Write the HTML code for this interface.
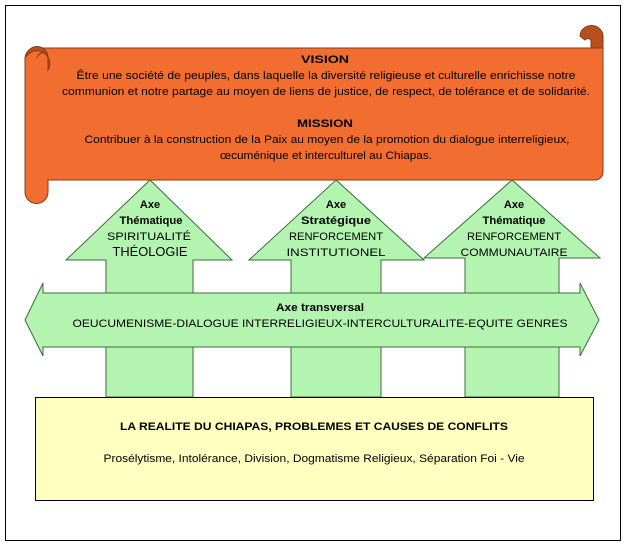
<!DOCTYPE html>
<html><head><meta charset="utf-8"><style>
html,body{margin:0;padding:0;background:#fff;}
svg{display:block;}
text{font-family:"Liberation Sans",sans-serif;fill:#000;}
</style></head><body>
<svg width="626" height="543" viewBox="0 0 626 543" xmlns="http://www.w3.org/2000/svg">
<rect x="5.5" y="5.5" width="615" height="535" fill="#fff" stroke="#000" stroke-width="1"/>
<g stroke="#8a3a12" stroke-width="1">
<path d="M40 48 H591 V36 A10 10 0 0 1 603 36 V172 A8 8 0 0 1 595 180 H48 V192 A11.5 11.5 0 0 1 25 192 V58 A11.5 11.5 0 0 1 40 48 Z" fill="#f26e30"/>
<path d="M580 36 A11.5 11 0 0 1 603 37 V48 H591 V40 A4 4 0 0 0 585 40 Z" fill="#b8501e"/>
<path d="M26 57 A11 11 0 0 1 48 58 V70 A11 11 0 0 0 26 57 Z" fill="#b8501e"/>
<path d="M37 58 A5.5 6 0 0 1 48 60" fill="none"/>
</g>
<g font-size="11" text-anchor="middle" lengthAdjust="spacingAndGlyphs">
<text x="325" y="63" font-weight="bold" textLength="48" lengthAdjust="spacingAndGlyphs">VISION</text>
<text x="326" y="79" textLength="499" lengthAdjust="spacingAndGlyphs">Être une société de peuples, dans laquelle la diversité religieuse et culturelle enrichisse notre</text>
<text x="326" y="95" textLength="528" lengthAdjust="spacingAndGlyphs">communion et notre partage au moyen de liens de justice, de respect, de tolérance et de solidarité.</text>
<text x="325" y="127" font-weight="bold" textLength="56" lengthAdjust="spacingAndGlyphs">MISSION</text>
<text x="327" y="143" textLength="485" lengthAdjust="spacingAndGlyphs">Contribuer à la construction de la Paix au moyen de la promotion du dialogue interreligieux,</text>
<text x="326" y="159" textLength="212" lengthAdjust="spacingAndGlyphs">œcuménique et interculturel au Chiapas.</text>
</g>
<g fill="#b3f5b0" stroke="#3d6b3d" stroke-width="1">
<path d="M150 180 L232 260 H193 V397 H106 V260 H66 Z"/>
<path d="M336 180 L424 260 H381 V397 H291 V260 H249 Z"/>
<path d="M512 180 L600 258 H559 V397 H465 V258 H424 Z"/>
<path d="M25 320 L43 283 V293 H580 V283 L599 320 L580 356 V347 H43 V356 Z"/>
</g>
<g font-size="11" text-anchor="middle">
<text x="150" y="208" font-weight="bold">Axe</text>
<text x="151" y="224" font-weight="bold" textLength="63" lengthAdjust="spacingAndGlyphs">Thématique</text>
<text x="149" y="240" textLength="84" lengthAdjust="spacingAndGlyphs">SPIRITUALITÉ</text>
<text x="150" y="256" font-family="Liberation Serif" font-size="13" textLength="75" lengthAdjust="spacingAndGlyphs">THÉOLOGIE</text>
<text x="336" y="208" font-weight="bold">Axe</text>
<text x="336" y="224" font-weight="bold" textLength="70" lengthAdjust="spacingAndGlyphs">Stratégique</text>
<text x="336" y="240" textLength="94" lengthAdjust="spacingAndGlyphs">RENFORCEMENT</text>
<text x="336" y="256" textLength="99" lengthAdjust="spacingAndGlyphs">INSTITUTIONEL</text>
<text x="514" y="208" font-weight="bold">Axe</text>
<text x="514" y="224" font-weight="bold" textLength="63" lengthAdjust="spacingAndGlyphs">Thématique</text>
<text x="514" y="240" textLength="94" lengthAdjust="spacingAndGlyphs">RENFORCEMENT</text>
<text x="514" y="256" textLength="107" lengthAdjust="spacingAndGlyphs">COMMUNAUTAIRE</text>
<text x="320" y="311" font-weight="bold" textLength="88" lengthAdjust="spacingAndGlyphs">Axe transversal</text>
<text x="320" y="327" textLength="495" lengthAdjust="spacingAndGlyphs">OEUCUMENISME-DIALOGUE INTERRELIGIEUX-INTERCULTURALITE-EQUITE GENRES</text>
</g>
<rect x="35.5" y="397.5" width="558" height="103" fill="#ffffc0" stroke="#000" stroke-width="1"/>
<g text-anchor="middle" font-size="11">
<text x="314" y="430" font-weight="bold" textLength="388" lengthAdjust="spacingAndGlyphs">LA REALITE DU CHIAPAS, PROBLEMES ET CAUSES DE CONFLITS</text>
<text x="314" y="462" textLength="421" lengthAdjust="spacingAndGlyphs">Prosélytisme, Intolérance, Division, Dogmatisme Religieux, Séparation Foi - Vie</text>
</g>
</svg>
</body></html>
